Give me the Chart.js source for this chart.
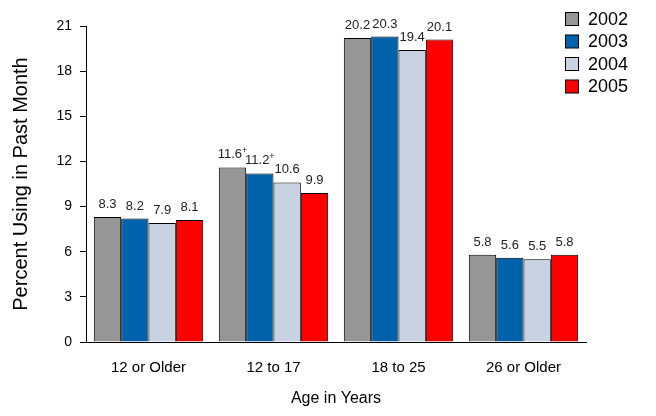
<!DOCTYPE html>
<html>
<head>
<meta charset="utf-8">
<script src="https://cdn.jsdelivr.net/npm/chart.js@4"></script>
<style>
  html, body { margin: 0; padding: 0; background: #fff; }
  #wrap { width: 656px; height: 416px; }
</style>
</head>
<body>
<div id="wrap"><canvas id="usageChart" width="656" height="416"></canvas></div>
<script>
const ageGroups = ['12 or Older', '12 to 17', '18 to 25', '26 or Older'];
const years = ['2002', '2003', '2004', '2005'];
const values2002 = [8.3, 11.6, 20.2, 5.8];
const values2003 = [8.2, 11.2, 20.3, 5.6];
const values2004 = [7.9, 10.6, 19.4, 5.5];
const values2005 = [8.1, 9.9, 20.1, 5.8];
// '+' marks a difference from 2005 that is significant
const marks2002 = ['', '+', '', ''];
const marks2003 = ['', '+', '', ''];
const marks2004 = ['', '', '', ''];
const marks2005 = ['', '', '', ''];
const yTicks = [0, 3, 6, 9, 12, 15, 18, 21];

const colors = ['#969696', '#0062AA', '#C8D2E3', '#FF0000'];
const allValues = [values2002, values2003, values2004, values2005];
const allMarks = [marks2002, marks2003, marks2004, marks2005];

const FONT = 'Arial, "Liberation Sans", sans-serif';

// Value labels above every bar, with a small raised '+' where needed
const barLabels = {
  id: 'barLabels',
  afterDatasetsDraw(chart) {
    const { ctx } = chart;
    ctx.save();
    ctx.fillStyle = '#222';
    ctx.textBaseline = 'alphabetic';
    chart.data.datasets.forEach((ds, di) => {
      chart.getDatasetMeta(di).data.forEach((bar, i) => {
        const text = ds.data[i].toFixed(1);
        const mark = allMarks[di][i];
        ctx.font = '13px ' + FONT;
        const w = ctx.measureText(text).width;
        ctx.font = '9px ' + FONT;
        const mw = mark ? ctx.measureText(mark).width : 0;
        const x0 = bar.x - (w + mw) / 2;
        const y = bar.y - 9;
        ctx.font = '13px ' + FONT;
        ctx.textAlign = 'left';
        ctx.fillText(text, x0, y);
        if (mark) {
          ctx.font = '9px ' + FONT;
          ctx.fillText(mark, x0 + w, y - 5);
        }
      });
    });
    ctx.restore();
  }
};

// Legend drawn over the top right corner of the plot
const cornerLegend = {
  id: 'cornerLegend',
  afterDraw(chart) {
    const { ctx } = chart;
    ctx.save();
    ctx.font = '18px ' + FONT;
    ctx.textBaseline = 'middle';
    ctx.textAlign = 'left';
    chart.data.datasets.forEach((ds, i) => {
      const y = 19 + i * 22.5;
      ctx.fillStyle = ds.backgroundColor;
      ctx.fillRect(565.5, y - 6.5, 13, 13);
      ctx.strokeStyle = '#000';
      ctx.lineWidth = 1;
      ctx.strokeRect(565.5, y - 6.5, 13, 13);
      ctx.fillStyle = '#000';
      ctx.fillText(ds.label, 588, y + 1);
    });
    ctx.restore();
  }
};

new Chart(document.getElementById('usageChart'), {
  type: 'bar',
  data: {
    labels: ageGroups,
    datasets: years.map((yr, i) => ({
      label: yr,
      data: allValues[i],
      backgroundColor: colors[i],
      borderColor: '#000',
      borderWidth: 1,
      borderSkipped: 'bottom',
      barPercentage: 1,
      categoryPercentage: 0.875
    }))
  },
  options: {
    responsive: false,
    animation: false,
    layout: { padding: { left: 0, right: 70, top: 26, bottom: 8 } },
    plugins: {
      legend: { display: false },
      tooltip: { enabled: false }
    },
    scales: {
      x: {
        grid: { display: false, drawTicks: false },
        border: { display: true, color: '#000', width: 1 },
        ticks: { color: '#000', font: { family: FONT, size: 15 }, padding: 17 },
        title: { display: true, text: 'Age in Years', color: '#000', font: { family: FONT, size: 16 }, padding: { top: 4, bottom: 0 } },
        afterFit(scale) { scale.height = 66; }
      },
      y: {
        min: 0,
        max: 21,
        afterBuildTicks(scale) { scale.ticks = yTicks.map(v => ({ value: v })); },
        grid: { display: true, drawOnChartArea: false, drawTicks: true, tickLength: 6, color: '#000' },
        border: { display: true, color: '#000', width: 1 },
        ticks: { color: '#000', font: { family: FONT, size: 14 }, padding: 8 },
        title: { display: true, text: 'Percent Using in Past Month', color: '#000', font: { family: FONT, size: 20 }, padding: { top: 9, bottom: 4 } },
        afterFit(scale) { scale.width = 86; }
      }
    }
  },
  plugins: [barLabels, cornerLegend]
});
</script>
</body>
</html>
